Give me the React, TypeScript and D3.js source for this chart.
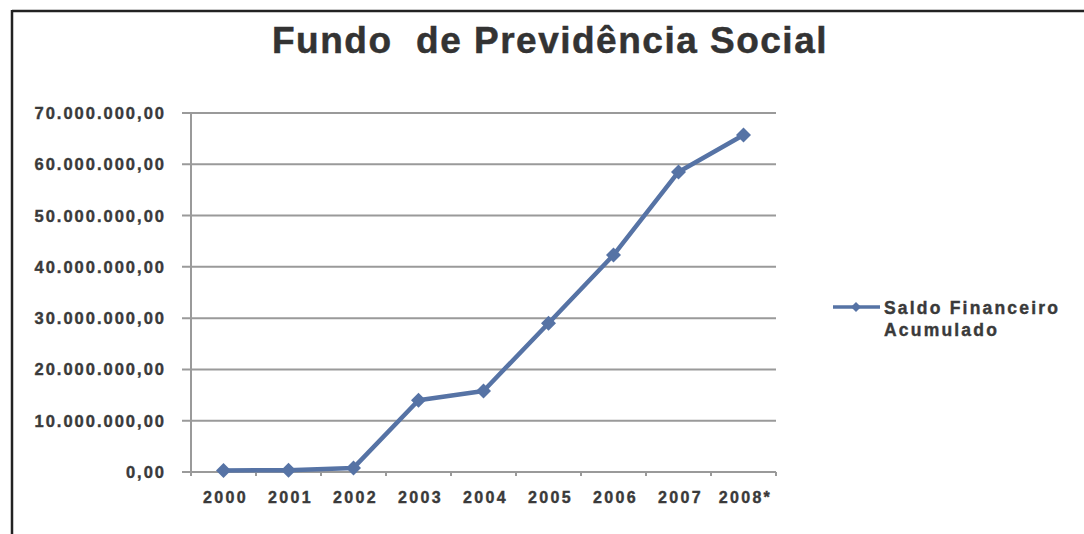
import { useMemo } from 'react';
import * as d3 from 'd3';

const years = ['2000', '2001', '2002', '2003', '2004', '2005', '2006', '2007', '2008*'];
const saldo = [300000, 350000, 800000, 14000000, 15800000, 29000000, 42300000, 58500000, 65700000];
const yTicks = [0, 10000000, 20000000, 30000000, 40000000, 50000000, 60000000, 70000000];

const TITLE = 'Fundo  de Previdência Social';
const LEGEND = ['Saldo Financeiro', 'Acumulado'];

const W = 1084;
const H = 534;
const LINE = '#5673a5';
const GRID = '#9a9a9a';
const TEXT = '#3a3a3a';
const FONT = '"Liberation Sans", Arial, sans-serif';

const ptBR = d3.formatLocale({ decimal: ',', thousands: '.', grouping: [3], currency: ['R$', ''] });
const fmt = ptBR.format(',.2f');

function Diamond({ x, y, r }: { x: number; y: number; r: number }) {
  return <path d={`M${x},${y - r}L${x + r},${y}L${x},${y + r}L${x - r},${y}Z`} fill={LINE} />;
}

export default function App() {
  const x = useMemo(() => d3.scaleBand<string>().domain(years).range([191, 776]).padding(0), []);
  const y = useMemo(() => d3.scaleLinear().domain([0, 70000000]).range([472, 113]), []);

  const line = d3.line<number>()
    .x((_, i) => (x(years[i]) ?? 0) + x.bandwidth() / 2)
    .y(d => y(d));

  const boundaries = years.map(yr => x(yr) ?? 0).concat([x.range()[1]]);

  return (
    <svg width={W} height={H} style={{ position: 'absolute', left: 0, top: 0, background: '#fff' }} fontFamily={FONT}>
      {/* frame (only top & left visible) */}
      <line x1={12} y1={11} x2={W} y2={11} stroke="#222" strokeWidth={2.5} />
      <line x1={12} y1={10} x2={12} y2={H} stroke="#222" strokeWidth={2.5} />

      <text x={550} y={53} textAnchor="middle" fontSize={37} fontWeight="bold" letterSpacing={1.5} fill="#333"
        stroke="#333" strokeWidth={0.5} style={{ whiteSpace: 'pre' }}>{TITLE}</text>

      {/* gridlines + y labels */}
      {yTicks.map(t => (
        <g key={t}>
          <line x1={182} x2={776} y1={y(t)} y2={y(t)} stroke={GRID} strokeWidth={2} />
          <text x={166} y={y(t) + 6} textAnchor="end" fontSize={16.5} fontWeight="bold" letterSpacing={2}
            fill={TEXT} stroke={TEXT} strokeWidth={0.4}>
            {fmt(t)}
          </text>
        </g>
      ))}

      {/* y axis */}
      <line x1={191} x2={191} y1={y(70000000)} y2={y(0)} stroke={GRID} strokeWidth={2} />

      {/* x ticks */}
      {boundaries.map((b, i) => (
        <line key={i} x1={b} x2={b} y1={y(0)} y2={y(0) + 4} stroke={GRID} strokeWidth={2} />
      ))}
      {years.map(yr => (
        <text key={yr} x={(x(yr) ?? 0) + x.bandwidth() / 2 + 2} y={y(0) + 31} textAnchor="middle" fontSize={16}
          fontWeight="bold" letterSpacing={2.3} fill={TEXT} stroke={TEXT} strokeWidth={0.4}>
          {yr}
        </text>
      ))}

      {/* series */}
      <path d={line(saldo) ?? ''} fill="none" stroke={LINE} strokeWidth={4.5} strokeLinejoin="round" />
      {saldo.map((v, i) => (
        <Diamond key={i} x={(x(years[i]) ?? 0) + x.bandwidth() / 2} y={y(v)} r={7.5} />
      ))}

      {/* legend */}
      <line x1={833} x2={880} y1={307} y2={307} stroke={LINE} strokeWidth={3.5} />
      <Diamond x={856} y={307} r={5} />
      {LEGEND.map((l, i) => (
        <text key={l} x={884} y={314 + i * 22} fontSize={17.5} fontWeight="bold" letterSpacing={2.2}
          fill={TEXT} stroke={TEXT} strokeWidth={0.4}>{l}</text>
      ))}
    </svg>
  );
}
